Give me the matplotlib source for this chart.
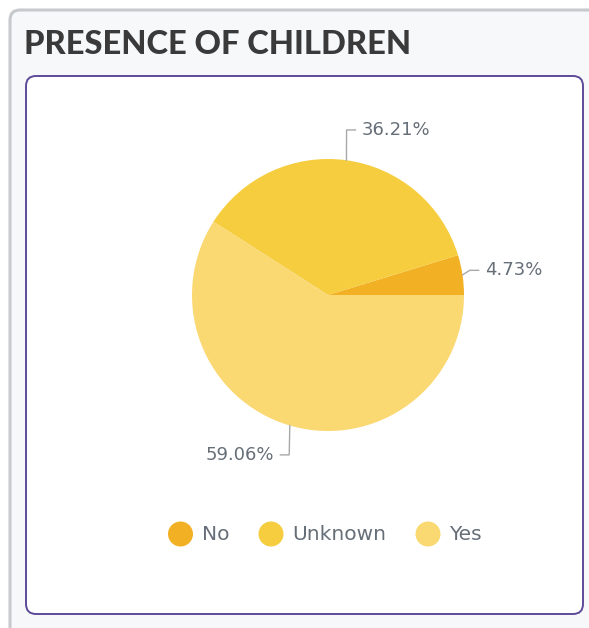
#!/usr/bin/env python3
"""Presence of children pie chart, card-style layout."""

import numpy as np
import matplotlib

matplotlib.use("Agg")
import matplotlib.pyplot as plt
from matplotlib.patches import FancyBboxPatch, Circle

categories = ["No", "Unknown", "Yes"]
shares = [4.73, 36.21, 59.06]
colors = ["#f2b124", "#f5cd3e", "#fad872"]
title = "PRESENCE OF CHILDREN"

W, H = 589, 628
TEXT = "#666e78"
LABEL_FONT = ["DejaVu Sans"]

plt.rcParams["font.family"] = ["Lato", "DejaVu Sans"]

fig = plt.figure(figsize=(W / 100, H / 100), dpi=100)
fig.patch.set_facecolor("white")

# background layer in pixel coordinates
bg = fig.add_axes([0, 0, 1, 1])
bg.set_xlim(0, W)
bg.set_ylim(H, 0)
bg.axis("off")
bg.add_patch(FancyBboxPatch((10, 10), W + 40, H + 40,
                            boxstyle="round,pad=0,rounding_size=10",
                            facecolor="#f7f8fa", edgecolor="#c6cacd", linewidth=2.2))
bg.add_patch(FancyBboxPatch((26, 76), 557, 538,
                            boxstyle="round,pad=0,rounding_size=10",
                            facecolor="white", edgecolor="#5e4a98", linewidth=1.4))
bg.text(24, 45, title, fontsize=23.5, fontweight="black", color="#3a3a3a",
        va="center", ha="left")

# pie: centre (328, 295) px, radius 136 px
cx, cy, r = 328, 295, 136
ax = fig.add_axes([(cx - r) / W, 1 - (cy + r) / H, 2 * r / W, 2 * r / H])
wedges, _ = ax.pie(shares, colors=colors, startangle=0, counterclock=True,
                   radius=1, wedgeprops=dict(linewidth=0))
ax.set_xlim(-1, 1)
ax.set_ylim(-1, 1)
ax.set_aspect("auto")

for wedge, value in zip(wedges, shares):
    mid = np.deg2rad((wedge.theta1 + wedge.theta2) / 2)
    c, s = np.cos(mid), np.sin(mid)
    side = 1 if c >= 0 else -1
    edge = (c, s)
    elbow = (c * (1 + 0.055 * abs(c)), s * 1.225)
    end = (elbow[0] + side * 0.065, elbow[1])
    ax.plot([edge[0], elbow[0], end[0]], [edge[1], elbow[1], end[1]],
            color="#a8a8a8", linewidth=1.0, clip_on=False, solid_joinstyle="miter")
    ax.text(end[0] + side * 0.045, end[1], f"{value:.2f}%", fontsize=13,
            family=LABEL_FONT, color=TEXT,
            ha="left" if side > 0 else "right", va="center")

# legend
leg_y = 534
leg_x = [180.5, 271, 428]
for x, name, col in zip(leg_x, categories, colors):
    bg.add_patch(Circle((x, leg_y), 12.5, facecolor=col, edgecolor="none"))
    bg.text(x + 21.5, leg_y, name, fontsize=14.5, family=LABEL_FONT, color=TEXT,
            va="center", ha="left")

fig.savefig("out.png", dpi=100)
